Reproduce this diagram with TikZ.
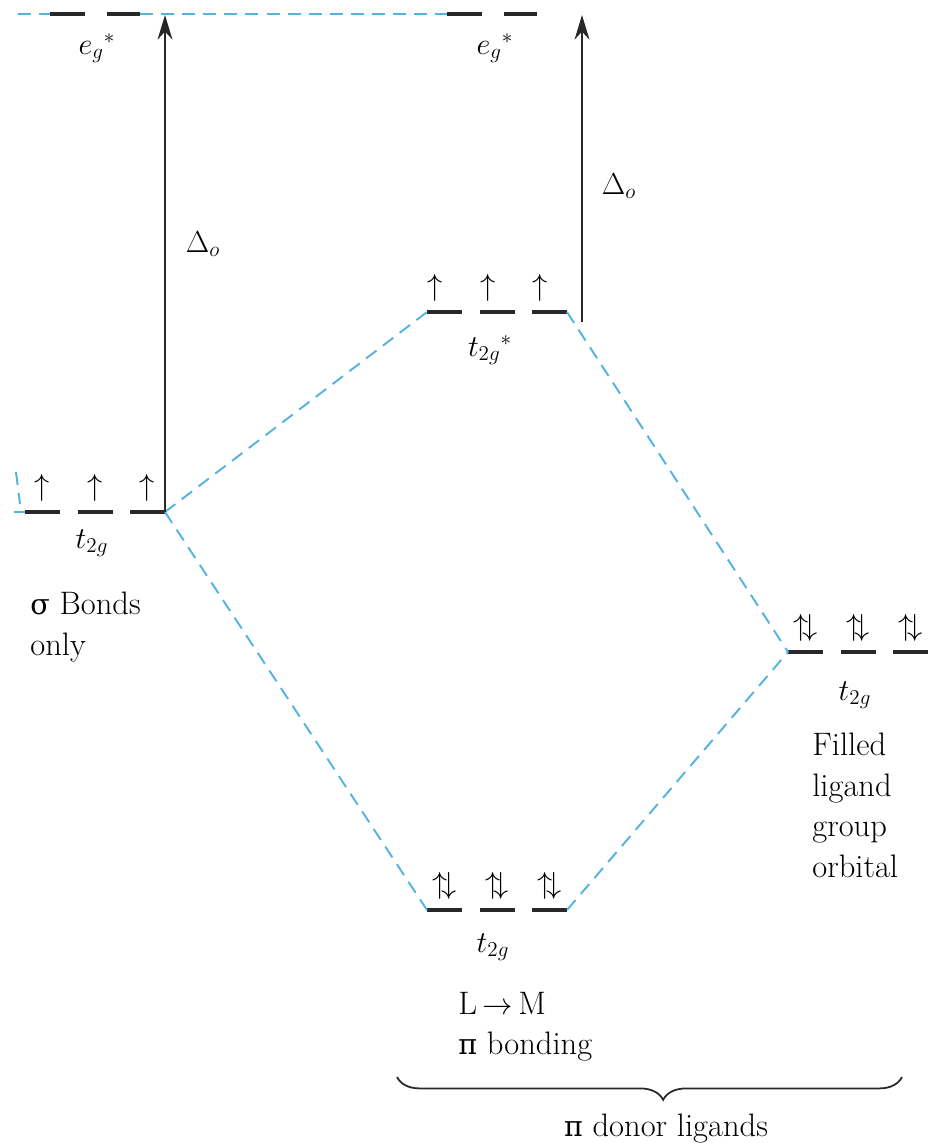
\documentclass[tikz,border=0pt]{standalone}
\usepackage{amsmath,amssymb}
\usepackage{fontspec}
\newfontfamily\grk{DejaVu Serif}[Scale=0.88]
\usetikzlibrary{arrows.meta,positioning,decorations.pathreplacing,calc}
\definecolor{Link}{RGB}{86,178,222}
\definecolor{Ink}{RGB}{40,40,40}

\begin{document}
\begin{tikzpicture}[x=0.02cm,y=-0.02cm,
    every node/.style={font=\fontsize{18.5}{23}\selectfont, inner sep=0pt},
    orb/.style={line width=2.3pt, Ink},
    link/.style={Link, line width=1.1pt, dash pattern=on 7.4pt off 4.6pt},
    gap/.style={-{Stealth[length=14pt,width=8.5pt]}, line width=1pt, Ink},
    spin/.style={anchor=south},
    txt/.style={align=left, anchor=north west}]
  \useasboundingbox (0,0) rectangle (947,1143);
  % levels: name / left end / height / arrow shift / electrons
  \foreach \n/\x/\y/\d/\e in {sig/25/512/0/{$\uparrow$}, anti/427/312/-9/{$\uparrow$},
      bond/427/910/0/{$\uparrow\mkern-4mu\downarrow$}, lig/788/652/0/{$\uparrow\mkern-4mu\downarrow$}} {
    \coordinate (\n-w) at (\x,\y);
    \coordinate (\n-e) at (\x+140,\y);
    \foreach \k in {0,1,2} {
      \draw[orb] (\x+52.5*\k,\y) -- ++(35,0);
      \node[spin] (\n-s\k) at (\x+17.5+52.5*\k+\d,\y-10) {\e};
    }
  }
  \foreach \n/\x in {ega/50, egb/447} {
    \coordinate (\n-w) at (\x,14);
    \coordinate (\n-e) at (\x+90,14);
    \draw[orb] (\x,14) -- ++(35,0) ++(22,0) -- ++(33,0);
  }
  \coordinate (top-w) at (18,14);
  \coordinate (cut-a) at (16,472);
  \coordinate (cut-c) at (20,504);
  \coordinate (cut-b) at (14,512);
  \draw[link] (top-w) -- (ega-w);
  \draw[link] (ega-e) -- (egb-w);
  \draw[link] (cut-a) -- (cut-c);
  \draw[link] (cut-b) -- (sig-w);
  \draw[link] (sig-e) -- (anti-w);
  \draw[link] (sig-e) -- (bond-w);
  \draw[link] (anti-e) -- (lig-w);
  \draw[link] (bond-e) -- (lig-w);

  \coordinate (sig-top) at (165,15);
  \coordinate (anti-foot) at (582,322);
  \coordinate (anti-top) at (582,15);
  \draw[gap] (sig-e) -- (sig-top);
  \draw[gap] (anti-foot) -- (anti-top);
  \node (dl) at (203,244) {$\Delta_o$};
  \node (dr) at (619,186) {$\Delta_o$};

  \node (ega-l) at (97,48) {${e_g}^{*}$};
  \node (egb-l) at (495,48) {${e_g}^{*}$};
  \node (sig-l) at (92,543) {$t_{2g}$};
  \node (anti-l) at (490,350) {${t_{2g}}^{*}$};
  \node (bond-l) at (493,947) {$t_{2g}$};
  \node (lig-l) at (855,695) {$t_{2g}$};

  \node[txt] (sig-t) at (30,592) {{\grk σ} Bonds\\only};
  \node[txt] (bond-t) at (458,992) {L\,$\rightarrow$\,M\\{\grk π} bonding};
  \node[txt] (lig-t) at (812,733) {Filled\\ligand\\group\\orbital};

  \coordinate (br-w) at (397,1077);
  \coordinate (br-e) at (902,1077);
  \draw[Ink, line width=1pt, decorate, decoration={brace, mirror, amplitude=13pt, aspect=0.527}] (br-w) -- (br-e);
  \node[anchor=base] (don) at (666,1136) {{\grk π} donor ligands};
\end{tikzpicture}
\end{document}
